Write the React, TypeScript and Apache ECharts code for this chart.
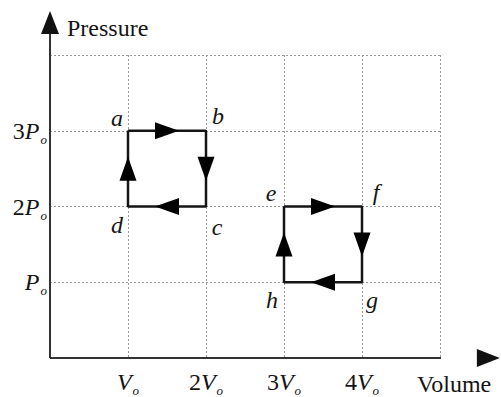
import React, { useEffect, useRef } from "react";
import * as echarts from "echarts";

const cycle1 = [
  ["a", 1, 3],
  ["b", 2, 3],
  ["c", 2, 2],
  ["d", 1, 2],
];
const cycle2 = [
  ["e", 3, 2],
  ["f", 4, 2],
  ["g", 4, 1],
  ["h", 3, 1],
];
const xTickLabels = ["", "{i|V}{s|o}", "{n|2}{i|V}{s|o}", "{n|3}{i|V}{s|o}", "{n|4}{i|V}{s|o}", ""];
const yTickLabels = ["", "{i|P}{s|o}", "{n|2}{i|P}{s|o}", "{n|3}{i|P}{s|o}", ""];
const labelOffsets: Record<string, number[]> = {
  a: [-11, -13], b: [12, -15], c: [11, 20], d: [-11, 18],
  e: [-13, -14], f: [14, -15], g: [10, 18], h: [-12, 18],
};

const FONT = "Liberation Serif";
const INK = "#151515";

function loop(c: any[]) {
  return [...c, c[0]].map((p) => [p[1], p[2]]);
}
function arrows(c: any[]) {
  const out: any[] = [];
  for (let i = 0; i < c.length; i++) {
    const p = c[i];
    const q = c[(i + 1) % c.length];
    const dx = q[1] - p[1];
    const dy = q[2] - p[2];
    let rot = 0;
    if (dx > 0) rot = -90;
    else if (dx < 0) rot = 90;
    else if (dy < 0) rot = 180;
    out.push({ value: [(p[1] + q[1]) / 2, (p[2] + q[2]) / 2], symbolRotate: rot });
  }
  return out;
}
function pointLabels(c: any[]) {
  return c.map((p) => ({
    value: [p[1], p[2]],
    name: p[0],
    label: { offset: labelOffsets[p[0]] },
  }));
}

const rich = {
  n: { fontFamily: FONT, fontSize: 24, color: INK, lineHeight: 26 },
  i: { fontFamily: FONT, fontSize: 24, fontStyle: "italic", color: INK, lineHeight: 26 },
  s: { fontFamily: FONT, fontSize: 13, fontStyle: "italic", color: INK, padding: [17, 0, 0, 1] },
};

export default function App() {
  const ref = useRef<HTMLDivElement>(null);
  useEffect(() => {
    const chart = echarts.init(ref.current!, null, { renderer: "svg" });
    const lineStyle = { color: INK, width: 2.5 };
    chart.setOption({
      animation: false,
      backgroundColor: "#ffffff",
      grid: { left: 50, right: 61, top: 55, bottom: 37 },
      xAxis: {
        type: "value",
        min: 0,
        max: 5,
        interval: 1,
        axisLine: { show: false },
        axisTick: { show: false },
        splitLine: { show: true, lineStyle: { color: "#9a9a9a", type: [2, 2], width: 1 } },
        axisLabel: {
          margin: 9,
          formatter: (v: number) => xTickLabels[Math.round(v)] ?? "",
          rich,
        },
      },
      yAxis: {
        type: "value",
        min: 0,
        max: 4,
        interval: 1,
        axisLine: { show: false },
        axisTick: { show: false },
        splitLine: { show: true, lineStyle: { color: "#9a9a9a", type: [2, 2], width: 1 } },
        axisLabel: {
          margin: 3,
          formatter: (v: number) => yTickLabels[Math.round(v)] ?? "",
          rich,
        },
      },
      series: [
        {
          type: "line",
          clip: false,
          symbol: "none",
          lineStyle: { color: "#333", width: 2 },
          data: [
            [0, 0],
            { value: [5.62, 0], symbol: "triangle", symbolSize: [18, 23], symbolRotate: -90, itemStyle: { color: "#111" } },
          ],
          z: 5,
        },
        {
          type: "line",
          clip: false,
          symbol: "none",
          lineStyle: { color: "#333", width: 2 },
          data: [
            [0, 0],
            { value: [0, 4.43], symbol: "triangle", symbolSize: [18, 23], symbolRotate: 0, itemStyle: { color: "#111" } },
          ],
          z: 5,
        },
        { type: "line", symbol: "none", lineStyle, data: loop(cycle1), z: 6 },
        { type: "line", symbol: "none", lineStyle, data: loop(cycle2), z: 6 },
        {
          type: "scatter",
          symbol: "triangle",
          symbolSize: [17, 24],
          itemStyle: { color: "#000", opacity: 1 },
          data: [...arrows(cycle1), ...arrows(cycle2)],
          z: 7,
        },
        {
          type: "scatter",
          symbol: "circle",
          symbolSize: 1,
          itemStyle: { color: INK, opacity: 1 },
          label: {
            show: true,
            position: "inside",
            formatter: "{b}",
            fontFamily: FONT,
            fontSize: 24,
            fontStyle: "italic",
            color: INK,
            textBorderWidth: 0,
          },
          data: [...pointLabels(cycle1), ...pointLabels(cycle2)],
          z: 8,
        },
      ],
      graphic: [
        { type: "text", left: 67, top: 16, style: { text: "Pressure", font: `24px "${FONT}"`, fill: INK } },
        { type: "text", left: 417, top: 372, style: { text: "Volume", font: `24px "${FONT}"`, fill: INK } },
      ],
    });
    return () => chart.dispose();
  }, []);
  return <div ref={ref} style={{ width: 501, height: 397, position: "absolute", left: 0, top: 0 }} />;
}
